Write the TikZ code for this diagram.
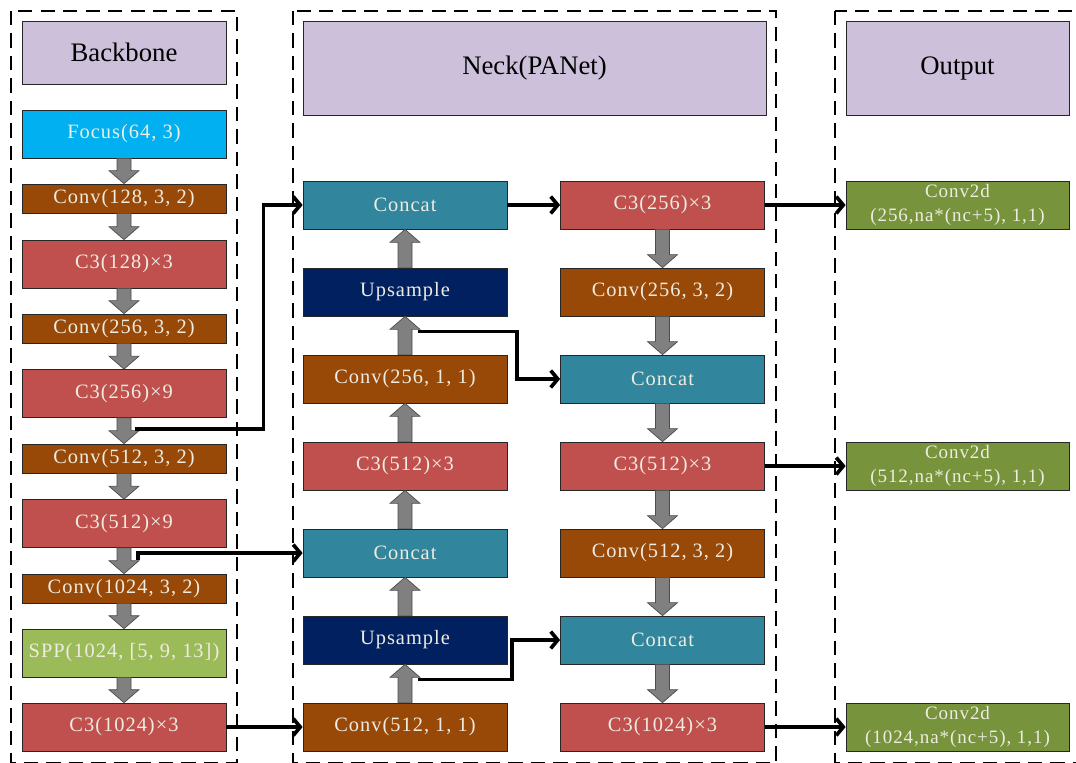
\documentclass[tikz,border=0pt]{standalone}
\usepackage{fontspec}
\setmainfont{Liberation Serif}
\usetikzlibrary{arrows.meta,calc}

\definecolor{hdrcol}{HTML}{CCC0DA}
\definecolor{focuscol}{HTML}{00B0F0}
\definecolor{convcol}{HTML}{984807}
\definecolor{csthreecol}{HTML}{C0504D}
\definecolor{sppcol}{HTML}{9BBB59}
\definecolor{catcol}{HTML}{31859C}
\definecolor{upcol}{HTML}{002060}
\definecolor{outcol}{HTML}{77933C}
\definecolor{txtcol}{HTML}{EEECE1}
\definecolor{shaftcol}{HTML}{808080}

\tikzset{
  blk/.style={draw=black!85, line width=0.5pt, minimum width=5.1cm, text=txtcol,
    font=\fontsize{14.5}{16}\selectfont\addfontfeatures{LetterSpace=5}, inner sep=0pt},
  tall/.style={minimum height=1.2cm},
  flat/.style={minimum height=0.725cm},
  hdr/.style={draw=black!85, line width=0.5pt, fill=hdrcol, text=black,
    font=\fontsize{19}{22}\selectfont, inner sep=0pt},
  zone/.style={line width=1.1pt, dash pattern=on 10pt off 6pt},
  garrow/.style={fill=shaftcol, draw=black!70, line width=0.5pt},
  conn/.style={line width=2.6pt, -{Straight Barb[length=5pt,width=12pt]}},
  outbox/.style={minimum width=5.575cm, align=center,
    font=\fontsize{13.5}{17}\selectfont\addfontfeatures{LetterSpace=5}},
}

% fat grey arrow from one anchor to another
\newcommand{\fatarr}[2]{%
  \draw[garrow] let \p1=(#1), \p2=(#2), \p3=($(#2)!0.325cm!(#1)$) in
    (\x1-0.175cm,\y1) -- (\x1-0.175cm,\y3) -- (\x1-0.375cm,\y3) -- (\x2,\y2)
    -- (\x1+0.375cm,\y3) -- (\x1+0.175cm,\y3) -- (\x1+0.175cm,\y1) -- cycle;}

\begin{document}
\begin{tikzpicture}[x=0.025cm, y=-0.025cm]
  \useasboundingbox (0,0) rectangle (1076,762);
  \clip (0,0) rectangle (1076,762);

  % dashed frames
  \draw[zone] (11,11) rectangle (237,763);
  \draw[zone] (293,11) rectangle (776,763);
  \draw[zone] (835,11) rectangle (1090,763);

  % Backbone column
  \node[hdr, minimum width=5.1cm, minimum height=1.575cm] (bb) at (124,52.5) {Backbone};
  \node[blk, tall, fill=focuscol] (focus) at (124,134) {Focus(64, 3)};
  \node[blk, flat, fill=convcol] (cv1) at (124,198.5) {Conv(128, 3, 2)};
  \node[blk, tall, fill=csthreecol] (c31) at (124,264) {C3(128)×3};
  \node[blk, flat, fill=convcol] (cv2) at (124,328.5) {Conv(256, 3, 2)};
  \node[blk, tall, fill=csthreecol] (c32) at (124,393.5) {C3(256)×9};
  \node[blk, flat, fill=convcol] (cv3) at (124,458.5) {Conv(512, 3, 2)};
  \node[blk, tall, fill=csthreecol] (c33) at (124,523.5) {C3(512)×9};
  \node[blk, flat, fill=convcol] (cv4) at (124,588.5) {Conv(1024, 3, 2)};
  \node[blk, tall, fill=sppcol] (spp) at (124,653) {SPP(1024, [5, 9, 13])};
  \node[blk, tall, fill=csthreecol] (c34) at (124,727) {C3(1024)×3};

  % Neck, up path
  \node[hdr, minimum width=11.575cm, minimum height=2.35cm] (neck) at (534.5,68) {Neck(PANet)};
  \node[blk, tall, fill=catcol] (cat1) at (405,205) {Concat};
  \node[blk, tall, fill=upcol] (up1) at (405,292) {Upsample};
  \node[blk, tall, fill=convcol] (cv5) at (405,379) {Conv(256, 1, 1)};
  \node[blk, tall, fill=csthreecol] (c35) at (405,466) {C3(512)×3};
  \node[blk, tall, fill=catcol] (cat2) at (405,553) {Concat};
  \node[blk, tall, fill=upcol] (up2) at (405,640) {Upsample};
  \node[blk, tall, fill=convcol] (cv6) at (405,727) {Conv(512, 1, 1)};

  % Neck, down path
  \node[blk, tall, fill=csthreecol] (c36) at (662.5,205) {C3(256)×3};
  \node[blk, tall, fill=convcol] (cv7) at (662.5,292) {Conv(256, 3, 2)};
  \node[blk, tall, fill=catcol] (cat3) at (662.5,379) {Concat};
  \node[blk, tall, fill=csthreecol] (c37) at (662.5,466) {C3(512)×3};
  \node[blk, tall, fill=convcol] (cv8) at (662.5,553) {Conv(512, 3, 2)};
  \node[blk, tall, fill=catcol] (cat4) at (662.5,640) {Concat};
  \node[blk, tall, fill=csthreecol] (c38) at (662.5,727) {C3(1024)×3};

  % Output column
  \node[hdr, minimum width=5.575cm, minimum height=2.35cm] (out) at (957.5,68) {Output};
  \node[blk, tall, outbox, fill=outcol] (d1) at (957.5,205) {Conv2d\\(256,na*(nc+5), 1,1)};
  \node[blk, tall, outbox, fill=outcol] (d2) at (957.5,466) {Conv2d\\(512,na*(nc+5), 1,1)};
  \node[blk, tall, outbox, fill=outcol] (d3) at (957.5,727) {Conv2d\\(1024,na*(nc+5), 1,1)};

  % grey arrows
  \foreach \a/\b in {focus/cv1, cv1/c31, c31/cv2, cv2/c32, c32/cv3, cv3/c33,
                     c33/cv4, cv4/spp, spp/c34, c36/cv7, cv7/cat3, cat3/c37,
                     c37/cv8, cv8/cat4, cat4/c38}
    \fatarr{\a.south}{\b.north};
  \foreach \a/\b in {cv6/up2, up2/cat2, cat2/c35, c35/cv5, cv5/up1, up1/cat1}
    \fatarr{\a.north}{\b.south};

  % black connectors
  \coordinate (s1) at ($(c32.south)+(0.275cm,-0.275cm)$);
  \coordinate (s2) at ($(c33.south)+(0.35cm,-0.3cm)$);
  \coordinate (s3) at ($(up1.south)+(0.325cm,-0.375cm)$);
  \coordinate (s4) at ($(up2.south)+(0.325cm,-0.375cm)$);
  \draw[conn] (s1) -| ([xshift=-0.975cm]cat1.west) -- (cat1.west);
  \draw[conn] (s2) |- (cat2.west);
  \draw[conn] (c34.east) -- (cv6.west);
  \draw[conn] (cat1.east) -- (c36.west);
  \draw[conn] (s3) -| ([xshift=-1.075cm]cat3.west) -- (cat3.west);
  \draw[conn] (s4) -| ([xshift=-1.2cm]cat4.west) -- (cat4.west);
  \draw[conn] (c36.east) -- (d1.west);
  \draw[conn] (c37.east) -- (d2.west);
  \draw[conn] (c38.east) -- (d3.west);
\end{tikzpicture}
\end{document}
